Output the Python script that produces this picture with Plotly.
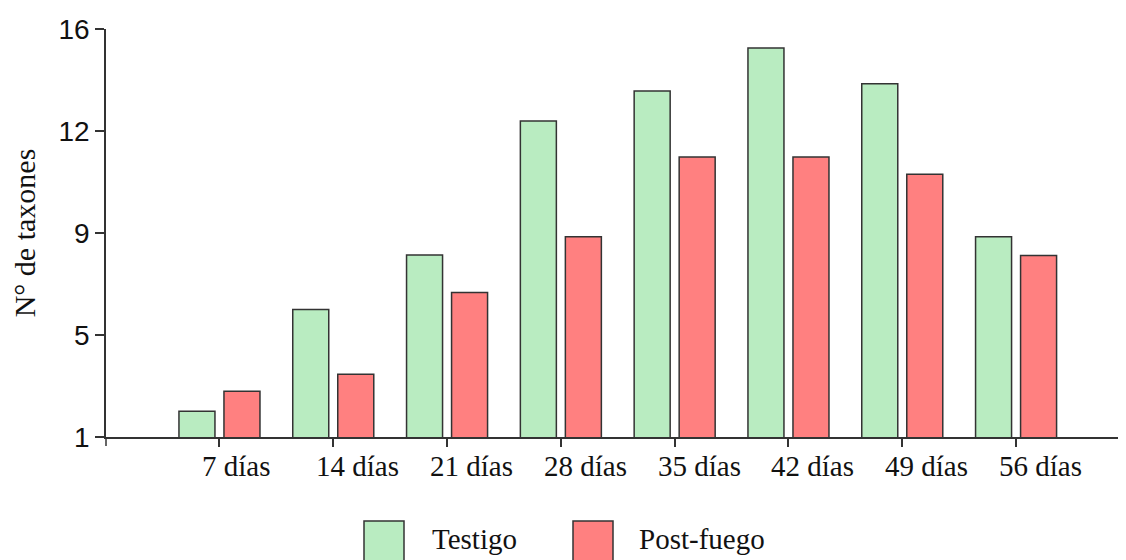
import plotly.graph_objects as go

categories = ["7 días", "14 días", "21 días", "28 días", "35 días", "42 días", "49 días", "56 días"]
series_names = ["Testigo", "Post-fuego"]
testigo = [1.95, 5.69, 7.69, 12.62, 13.72, 15.3, 13.99, 8.36]
post_fuego = [2.68, 3.31, 6.31, 8.36, 11.29, 11.29, 10.66, 7.67]
y_tickvals = [1, 4.75, 8.5, 12.25, 16]
y_ticktext = ["1", "5", "9", "12", "16"]

green = "#B9ECC1"
red = "#FF8080"
edge = "#333333"
serif = "Liberation Serif, Times New Roman, serif"
sans = "Liberation Sans, Arial, sans-serif"

fig = go.Figure()
fig.add_trace(go.Bar(x=categories, y=testigo, name=series_names[0],
                     marker=dict(color=green, line=dict(color=edge, width=1.5))))
fig.add_trace(go.Bar(x=categories, y=post_fuego, name=series_names[1],
                     marker=dict(color=red, line=dict(color=edge, width=1.5))))

# page body has an 8px margin -> compensate
OFF = 8
W, H = 1126 - OFF, 560 - OFF
L, T, B = 106 - OFF, 29 - OFF, 123
pw = W - L
ph = H - T - B

fig.update_layout(
    width=W, height=H,
    margin=dict(l=L, r=0, t=T, b=B),
    plot_bgcolor="white", paper_bgcolor="white",
    barmode="group", bargap=0.209, bargroupgap=0.2,
    showlegend=False,
)
fig.update_xaxes(
    type="category", range=[-0.997, 7.966],
    showline=True, linecolor=edge, linewidth=1.5,
    ticks="outside", ticklen=8, tickcolor=edge, tickwidth=1.5,
    showticklabels=False, showgrid=False, zeroline=False,
)
fig.update_yaxes(
    range=[1, 16], tickvals=y_tickvals, ticktext=y_ticktext,
    showline=True, linecolor=edge, linewidth=1.5,
    ticks="outside", ticklen=9, tickcolor=edge, tickwidth=1.5,
    tickfont=dict(family=sans, size=28, color="#111"),
    showgrid=False, zeroline=False,
    title=dict(text="N° de taxones", font=dict(family=serif, size=30, color="#111"), standoff=22),
)

# x category labels (left-aligned slightly left of the tick)
for c in categories:
    fig.add_annotation(x=c, y=0, xref="x", yref="paper", text=c, showarrow=False,
                       xanchor="left", yanchor="top", xshift=-19, yshift=-11,
                       font=dict(family=serif, size=29, color="#111"))

# y axis line extension below baseline
fig.add_shape(type="line", xref="paper", yref="paper", x0=0, x1=0, y0=0, y1=-9 / ph,
              line=dict(color=edge, width=1.5))

# legend (positions given in page pixels)
def px_x(p):
    return (p - OFF - L) / pw

def px_y(p):
    return (H - B - (p - OFF)) / ph

legend_items = [(series_names[0], green, 364, 430), (series_names[1], red, 573, 637)]
for name, col, sx, tx in legend_items:
    fig.add_shape(type="rect", xref="paper", yref="paper",
                  x0=px_x(sx), x1=px_x(sx + 40), y0=px_y(521), y1=px_y(566),
                  fillcolor=col, line=dict(color=edge, width=1.5))
    fig.add_annotation(x=px_x(tx), y=px_y(539), xref="paper", yref="paper", text=name,
                       showarrow=False, xanchor="left", yanchor="middle",
                       font=dict(family=serif, size=29, color="#111"))

fig.write_html("out.html")
